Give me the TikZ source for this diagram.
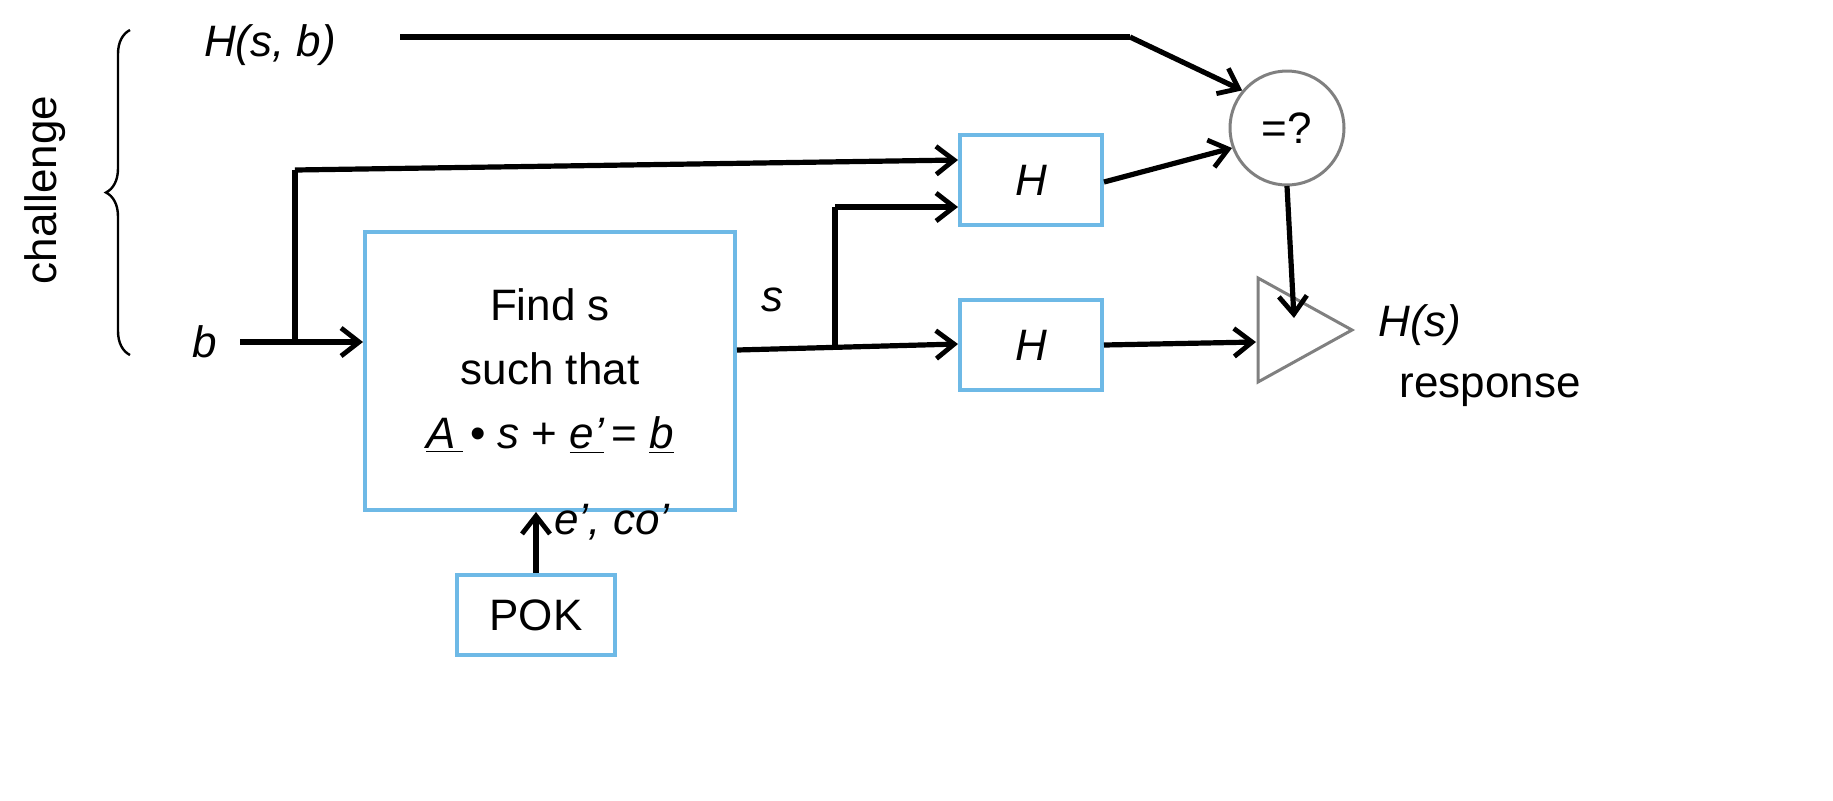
\documentclass[tikz,border=0pt]{standalone}
\usepackage{fontspec}
\setmainfont{Liberation Sans}
\usetikzlibrary{arrows.meta,decorations.pathreplacing}
\definecolor{bx}{RGB}{110,185,230}
\definecolor{gr}{RGB}{128,128,128}
\begin{document}
\begin{tikzpicture}[x=0.5pt,y=-0.5pt,
  font=\fontsize{22}{27}\selectfont,
  ar/.style={line width=2.6pt,-{Straight Barb[length=9pt,width=14pt,line width=2.4pt]}},
  ln/.style={line width=2.6pt},
  box/.style={draw=bx,line width=2pt,inner sep=0pt}]
\useasboundingbox (0,0) rectangle (1833,800);
\node[box,minimum width=71pt,minimum height=45pt] (h1) at (1031,180) {\itshape H};
\node[box,minimum width=71pt,minimum height=45pt] (h2) at (1031,345) {\itshape H};
\node[box,minimum width=185pt,minimum height=139pt,align=center,font=\fontsize{22}{32}\selectfont] (f) at (550,371)
  {Find s\\such that\\\underline{\itshape A\,}\,• \itshape s \upshape+ \underline{\itshape e’}\,= \underline{\itshape b}};
\node[box,minimum width=79pt,minimum height=40pt] (pok) at (536,615) {POK};
\node[draw=gr,line width=1.5pt,circle,minimum size=57pt,inner sep=0pt] (eq) at (1287,128) {=?};
\coordinate (t1) at (1258,278); \coordinate (t2) at (1258,382); \coordinate (t3) at (1352,330);
\draw[gr,line width=1.5pt] (t1)--(t3)--(t2)--cycle;
\node[font=\fontsize{22}{27}\selectfont\itshape] (hsb) at (270,45) {H(s, b)};
\node[font=\fontsize{22}{27}\selectfont\itshape] (b) at (205,342) {b};
\node[font=\fontsize{22}{27}\selectfont\itshape] (hs) at (1420,325) {H(s)};
\node (resp) at (1490,390) {response};
\node[rotate=90] (ch) at (45,190) {challenge};
\node[font=\fontsize{22}{27}\selectfont\itshape] (sl) at (772,300) {s};
\node[font=\fontsize{22}{27}\selectfont\itshape] (el) at (612,522) {e’, co’};
\draw[line width=1.2pt,decorate,decoration={brace,amplitude=12pt,mirror}] (130,30) -- (130,355);
\coordinate (k1) at (1130,37);
\draw[ln] (400,37) -- (k1);
\draw[ar] (k1) -- (eq.140);
\coordinate (bb) at (295,342);
\draw[ar] (240,342) -- (f.west |- 0,342);
\draw[ln] (bb) -- (295,170);
\draw[ar] (295,170) -- (h1.west |- 0,160);
\coordinate (sb) at (835,346);
\draw[ar] (f.east |- 0,350) -- (h2.west |- 0,344);
\draw[ln] (sb) -- (835,207);
\draw[ar] (835,207) -- (h1.west |- 0,207);
\draw[ar] (h1.east |- 0,182) -- (eq.200);
\draw[ar] (eq.south |- 0,186) -- (1294,318);
\draw[ar] (h2.east |- 0,345) -- (1256,342);
\draw[ar] (pok.north) -- (f.south -| pok.north);
\end{tikzpicture}
\end{document}
